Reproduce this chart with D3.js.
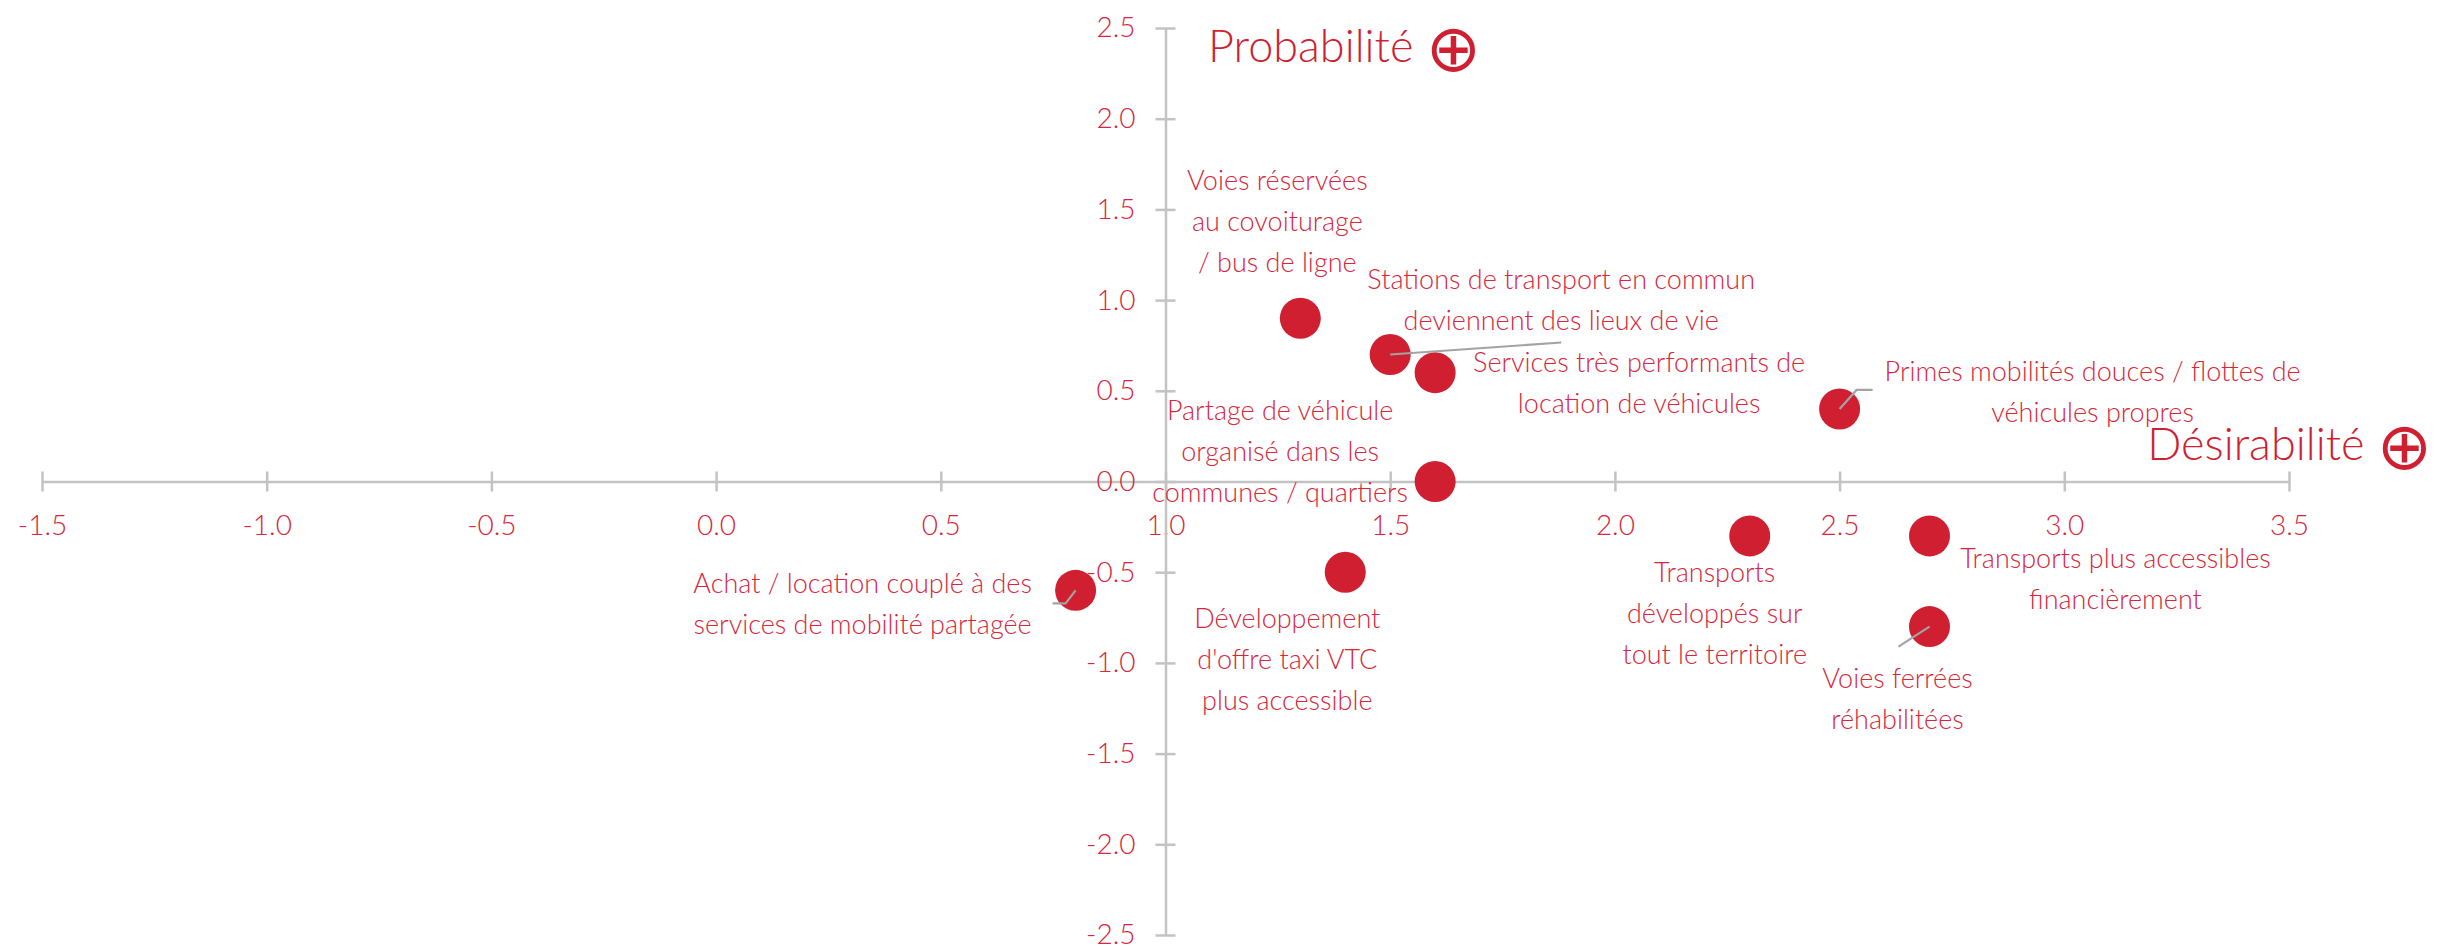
<!DOCTYPE html>
<html lang="fr">
<head>
<meta charset="utf-8">
<script src="https://cdn.jsdelivr.net/npm/d3@7"></script>
<style>
  html, body { margin: 0; padding: 0; background: #ffffff; }
  svg { display: block; font-family: Lato, "Open Sans", sans-serif; }
  .sym { font-family: "DejaVu Sans", sans-serif; font-weight: normal; }
</style>
</head>
<body>
<svg id="chart" width="2437" height="946"></svg>
<script>
// Scénarios de mobilité : désirabilité (x) et probabilité (y)
const labels = [
  ["Voies réservées", "au covoiturage", "/ bus de ligne"],
  ["Stations de transport en commun", "deviennent des lieux de vie"],
  ["Services très performants de", "location de véhicules"],
  ["Partage de véhicule", "organisé dans les", "communes / quartiers"],
  ["Primes mobilités douces / flottes de", "véhicules propres"],
  ["Achat / location couplé à des", "services de mobilité partagée"],
  ["Développement", "d'offre taxi VTC", "plus accessible"],
  ["Transports", "développés sur", "tout le territoire"],
  ["Transports plus accessibles", "financièrement"],
  ["Voies ferrées", "réhabilitées"]
];
const desirabilite = [1.3, 1.5, 1.6, 1.6, 2.5, 0.8, 1.4, 2.3, 2.7, 2.7];
const probabilite  = [0.9, 0.7, 0.6, 0.0, 0.4, -0.6, -0.5, -0.3, -0.3, -0.8];
const xTicks = [-1.5, -1.0, -0.5, 0.0, 0.5, 1.0, 1.5, 2.0, 2.5, 3.0, 3.5];
const yTicks = [2.5, 2.0, 1.5, 1.0, 0.5, 0.0, -0.5, -1.0, -1.5, -2.0, -2.5];

// Placement des étiquettes (décalage en px par rapport au point) et traits de rappel
const labelOffsets = [
  [-23, -128], [171, -66], [204, -1], [-155, -62], [253, -28],
  [-213, 3], [-58, 56], [-35, 46], [186, 32], [-32, 61]
];
const leaders = [
  null,
  [[0, 0], [171, -12]],
  null,
  null,
  [[0, 0], [17, -19], [33, -19]],
  [[0, 0], [-10, 13], [-23, 13]],
  null,
  null,
  null,
  [[0, 0], [-31, 20]]
];

const RED = "#d01f31";
const TEXT = "#d8263b";
const AXIS = "#c3c3c3";

const svg = d3.select("#chart");
const x = d3.scaleLinear().domain([-1.5, 3.5]).range([42, 2289]);
const y = d3.scaleLinear().domain([-2.5, 2.5]).range([935, 28]);

// Format à une décimale avec un tiret simple pour le signe moins
const fmt = v => d3.format(".1f")(v).replace("\u2212", "-");

// Axe horizontal passant par y = 0
const gx = svg.append("g")
  .attr("transform", `translate(0,${y(0)})`)
  .call(d3.axisBottom(x).tickValues(xTicks).tickFormat(fmt).tickSizeInner(10).tickSizeOuter(0));
// Axe vertical passant par x = 1
const gy = svg.append("g")
  .attr("transform", `translate(${x(1)},0)`)
  .call(d3.axisLeft(y).tickValues(yTicks).tickFormat(fmt).tickSizeInner(10).tickSizeOuter(0));

[gx, gy].forEach(g => {
  g.attr("font-family", null).attr("font-size", null);
  g.select(".domain").attr("stroke", AXIS).attr("stroke-width", 2.5);
  g.selectAll(".tick line").attr("stroke", AXIS).attr("stroke-width", 2.5);
  g.selectAll(".tick text")
    .attr("fill", TEXT)
    .style("font-size", "28px")
    .style("font-weight", 300);
});
// Traits de graduation en croix
gx.selectAll(".tick line").attr("y1", -10).attr("y2", 10);
gy.selectAll(".tick line").attr("x1", -10).attr("x2", 10);
gx.selectAll(".tick text").attr("dy", "0.35em").attr("y", 44);
gy.selectAll(".tick text").attr("x", -30);

const data = labels.map((l, i) => ({
  lines: l, dx: desirabilite[i], py: probabilite[i],
  off: labelOffsets[i], leader: leaders[i]
}));

// Points
svg.append("g").selectAll("circle")
  .data(data).join("circle")
  .attr("cx", d => x(d.dx))
  .attr("cy", d => y(d.py))
  .attr("r", 20.5)
  .attr("fill", RED);

// Traits de rappel
const line = d3.line();
svg.append("g").selectAll("path")
  .data(data.filter(d => d.leader)).join("path")
  .attr("d", d => line(d.leader.map(([a, b]) => [x(d.dx) + a, y(d.py) + b])))
  .attr("fill", "none")
  .attr("stroke", "#a3a3a3")
  .attr("stroke-width", 2.2);

// Étiquettes
const lab = svg.append("g").selectAll("text")
  .data(data).join("text")
  .attr("text-anchor", "middle")
  .attr("fill", TEXT)
  .style("font-size", "27px")
  .style("font-weight", 300)
  .attr("transform", d => `translate(${x(d.dx) + d.off[0]},${y(d.py) + d.off[1]})`);
lab.selectAll("tspan")
  .data(d => d.lines).join("tspan")
  .attr("x", 0)
  .attr("y", (t, j) => j * 41)
  .text(t => t);

// Titres des axes
function title(txt, px, py, anchor) {
  const t = svg.append("text")
    .attr("x", px).attr("y", py)
    .attr("text-anchor", anchor)
    .attr("fill", RED)
    .style("font-size", "45px")
    .style("font-weight", 300);
  t.append("tspan").text(txt + " ");
  t.append("tspan").attr("class", "sym").style("font-size", "66px").attr("dy", 9).text("⊕");
}
title("Probabilité", 1208, 62, "start");
title("Désirabilité", 2432, 460, "end");
</script>
</body>
</html>
